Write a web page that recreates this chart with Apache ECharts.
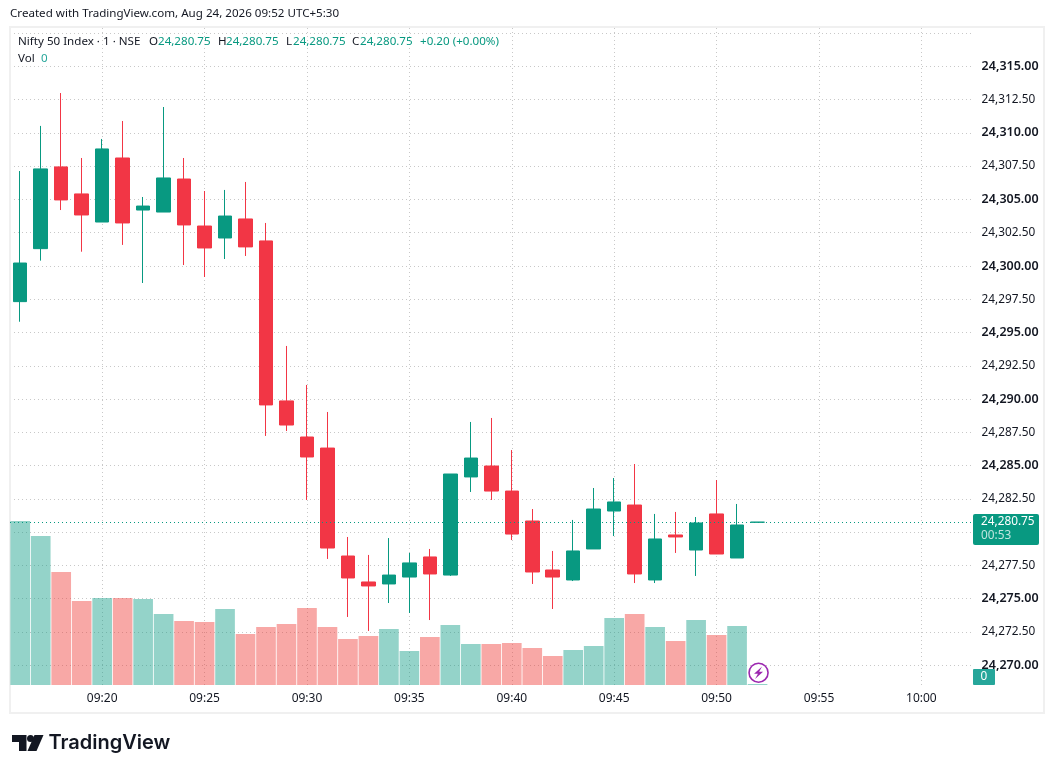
<!DOCTYPE html>
<html><head><meta charset="utf-8">
<style>html,body{margin:0;padding:0;background:#fff}#c{width:1054px;height:773px}</style>
<script src="https://cdn.jsdelivr.net/npm/echarts@6/dist/echarts.min.js"></script>
</head><body><div id="c"></div>
<script>
const times=['09:16','09:17','09:18','09:19','09:20','09:21','09:22','09:23','09:24','09:25','09:26','09:27','09:28','09:29','09:30','09:31','09:32','09:33','09:34','09:35','09:36','09:37','09:38','09:39','09:40','09:41','09:42','09:43','09:44','09:45','09:46','09:47','09:48','09:49','09:50','09:51','09:52','09:53','09:54','09:55','09:56','09:57','09:58','09:59','10:00','10:01','10:02'];
const opens=[24297.32,24301.30,24307.44,24305.41,24303.30,24308.11,24304.20,24304.05,24306.53,24303.00,24302.10,24303.53,24301.88,24289.86,24287.15,24286.32,24278.21,24276.26,24276.11,24276.63,24278.14,24276.78,24284.15,24284.97,24283.09,24280.84,24277.16,24276.41,24278.74,24281.59,24282.04,24276.41,24279.79,24278.66,24281.37,24278.06,24280.75];
const closes=[24300.22,24307.29,24304.96,24303.83,24308.79,24303.23,24304.50,24306.61,24303.08,24301.35,24303.75,24301.43,24289.56,24288.05,24285.65,24278.81,24276.56,24275.96,24276.78,24277.69,24276.86,24284.37,24285.57,24283.09,24279.86,24277.01,24276.63,24278.59,24281.74,24282.27,24276.86,24279.49,24279.64,24280.69,24278.36,24280.54,24280.75];
const lows=[24295.81,24300.40,24304.20,24301.07,24303.30,24301.58,24298.72,24304.05,24300.07,24299.17,24300.52,24300.75,24287.23,24287.60,24282.42,24277.99,24273.63,24272.58,24274.68,24273.93,24273.40,24276.71,24283.02,24282.42,24279.41,24276.11,24274.23,24276.33,24278.74,24279.71,24276.18,24276.18,24278.44,24276.71,24278.36,24278.06,24280.75];
const highs=[24307.13,24310.52,24312.99,24308.11,24309.54,24310.89,24305.18,24311.94,24308.11,24305.63,24305.71,24306.31,24303.23,24293.99,24291.06,24289.03,24279.64,24278.29,24279.56,24278.44,24278.74,24284.37,24288.28,24288.58,24286.17,24281.74,24278.59,24280.92,24283.32,24284.07,24285.12,24281.37,24281.52,24281.14,24283.92,24282.12,24280.75];
const volumes=[164,149,113,84,87,87,86,71,64,63,76,51,58,61,77,58,46,49,56,34,48,60,41,41,42,37,29,35,39,67,71,58,44,65,50,59,0];
const lastPrice=24280.75;
const legendValues=['24,280.75','24,280.75','24,280.75','24,280.75'];
const GREEN='#089981',RED='#F23645',FONT='"Noto Sans",sans-serif',INK='#131722';

const candles=opens.map((o,i)=>[o,closes[i],lows[i],highs[i]]);
const volData=volumes.map((v,i)=>({value:v,itemStyle:{color:closes[i]>=opens[i]?'rgba(8,153,129,.43)':'rgba(238,54,48,.43)'}}));
const gridLine={show:true,lineStyle:{color:'#c8c8c8',width:1,type:[1,3]}};
const isFive=(i)=>{const t=times[i];return t&&+t.slice(3)%5===0;};

const txt=(x,y,t,fill,extra)=>({type:'text',x,y,silent:true,z:20,style:Object.assign({text:t,fill:fill||INK,font:'11.6px '+FONT,textVerticalAlign:'middle',verticalAlign:'middle'},extra||{})});

const chart=echarts.init(document.getElementById('c'),null,{renderer:'canvas'});
chart.setOption({
 animation:false,backgroundColor:'#fff',
 grid:[
  {left:10,width:962.6,top:33,height:632.3,containLabel:false},
  {left:10,width:962.6,top:28,height:657,containLabel:false}
 ],
 xAxis:[
  {type:'category',gridIndex:0,data:times,show:false,boundaryGap:true},
  {type:'category',gridIndex:1,data:times,boundaryGap:true,
   axisLine:{show:false},axisTick:{show:false},
   splitLine:Object.assign({},gridLine,{alignWithLabel:true,interval:(i)=>isFive(i)}),
   axisLabel:{interval:(i)=>isFive(i),color:INK,fontFamily:FONT,fontSize:12,margin:8}}
 ],
 yAxis:[
  {type:'value',gridIndex:0,position:'right',min:24270,max:24317.5,interval:2.5,
   axisLine:{show:false},axisTick:{show:false},splitLine:gridLine,
   axisLabel:{margin:9,align:'left',
    formatter:(v)=>{
      if(v>24316||v===24280)return '';
      const s=v.toLocaleString('en-US',{minimumFractionDigits:2,maximumFractionDigits:2});
      return v%5===0?'{b|'+s+'}':'{r|'+s+'}';
    },
    rich:{b:{fontFamily:FONT,fontSize:12.5,fontWeight:600,color:INK},r:{fontFamily:FONT,fontSize:11.8,color:INK}}}},
  {type:'value',gridIndex:1,min:0,max:657,show:false,splitLine:{show:false}}
 ],
 series:[
  {type:'bar',name:'Vol',xAxisIndex:1,yAxisIndex:1,data:volData,barWidth:'96%',barMinHeight:1,silent:true,z:2},
  {type:'candlestick',name:'Nifty 50 Index',xAxisIndex:0,yAxisIndex:0,data:candles,barWidth:14,z:3,silent:true,
   itemStyle:{color:GREEN,color0:RED,borderColor:GREEN,borderColor0:RED,borderWidth:1},
   markLine:{silent:true,symbol:'none',animation:false,label:{show:false},
    lineStyle:{color:GREEN,width:1,type:[1,3]},data:[{yAxis:lastPrice}]}}
 ]
});

const yPrice=chart.convertToPixel({yAxisIndex:0},lastPrice);
const xLast=chart.convertToPixel({xAxisIndex:1},'09:52');
const yVolZero=chart.convertToPixel({yAxisIndex:1},0);

chart.setOption({graphic:[
 {type:'rect',shape:{x:10,y:27,width:1034,height:686},style:{fill:'none',stroke:'#f0f0f0',lineWidth:2},silent:true,z:1},
 txt(10,14,'Created with TradingView.com, Aug 24, 2026 09:52 UTC+5:30'),
 txt(18,41.5,'Nifty 50 Index · 1 · NSE'),
 txt(149,41.5,'O'),txt(158,41.5,legendValues[0],GREEN),
 txt(218,41.5,'H'),txt(226,41.5,legendValues[1],GREEN),
 txt(286,41.5,'L'),txt(293,41.5,legendValues[2],GREEN),
 txt(352,41.5,'C'),txt(360,41.5,legendValues[3],GREEN),
 txt(420,41.5,'+0.20 (+0.00%)',GREEN),
 txt(18,58.5,'Vol'),txt(41,58.5,'0','#26A69A'),
 {type:'rect',shape:{x:973,y:yPrice-8.3,width:66,height:31,r:2},style:{fill:GREEN},silent:true,z:19},
 txt(981,yPrice-0.8,'24,280.75','#ffffff',{font:'11.8px '+FONT}),
 txt(981,yPrice+13,'00:53','rgba(255,255,255,.75)',{font:'11.8px '+FONT}),
 {type:'rect',shape:{x:973,y:yVolZero-16,width:22,height:16,r:1},style:{fill:'#26A69A'},silent:true,z:19},
 txt(980.5,yVolZero-8,'0','#ffffff',{font:'11.8px '+FONT}),
 {type:'circle',shape:{cx:xLast+1,cy:672.7,r:9.5},style:{fill:'#fff',stroke:'#9C27B0',lineWidth:1.6},silent:true,z:21},
 {type:'polygon',shape:{points:[[xLast+4.5,666.5],[xLast-3.5,673.8],[xLast+.4,673.8],[xLast-2.5,679],[xLast+5.5,671.7],[xLast+1.6,671.7]]},style:{fill:'#9C27B0'},silent:true,z:22},
 {type:'polygon',shape:{points:[[12,735],[26.5,735],[26.5,751],[19,751],[19,742],[12,742]]},style:{fill:'#131722'},silent:true,z:20},
 {type:'circle',shape:{cx:30.5,cy:738.5,r:3.5},style:{fill:'#131722'},silent:true,z:20},
 {type:'polygon',shape:{points:[[34.5,735],[43.5,735],[36.5,751],[27.5,751]]},style:{fill:'#131722'},silent:true,z:20},
 txt(48.5,743,'TradingView','#131722',{font:'600 20px Inter, sans-serif'})
]});
</script></body></html>
